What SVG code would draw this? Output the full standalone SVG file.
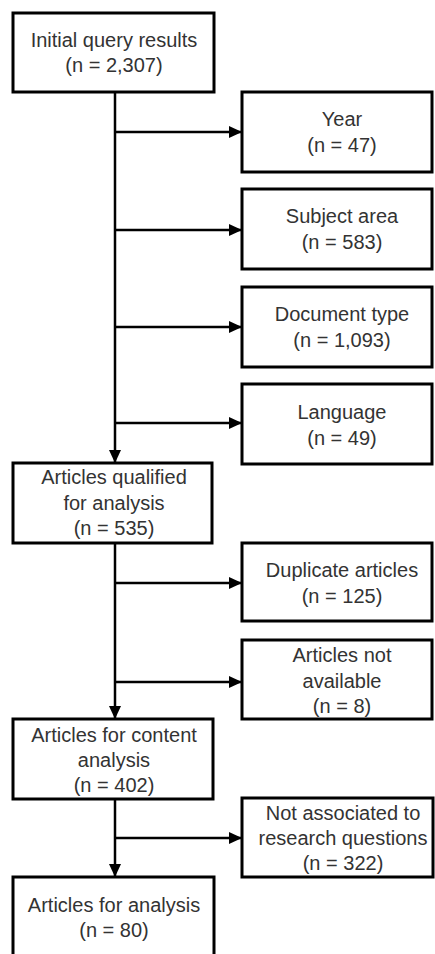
<svg xmlns="http://www.w3.org/2000/svg" width="435" height="954" viewBox="0 0 435 954">
  <defs>
    <style>
      .box { fill: #ffffff; stroke: #000000; stroke-width: 3; }
      .lbl { font-family: "Liberation Sans", Arial, sans-serif; font-size: 20px; fill: #333333; text-anchor: middle; }
      .link { fill: none; stroke: #000000; stroke-width: 2.5; }
    </style>
    <marker id="arrow" markerUnits="userSpaceOnUse" markerWidth="14" markerHeight="14" viewBox="0 0 14 14" refX="13" refY="7" orient="auto">
      <path d="M0,1 L13,7 L0,13 Z" fill="#000000"/>
    </marker>
  </defs>
  <rect width="435" height="954" fill="#ffffff"/>

  <!-- connectors -->
  <g id="connectors">
    <path class="link" d="M115,92 V463" marker-end="url(#arrow)"/>
    <path class="link" d="M115,132 H242" marker-end="url(#arrow)"/>
    <path class="link" d="M115,230 H242" marker-end="url(#arrow)"/>
    <path class="link" d="M115,327 H242" marker-end="url(#arrow)"/>
    <path class="link" d="M115,423 H242" marker-end="url(#arrow)"/>
    <path class="link" d="M115,543 V719" marker-end="url(#arrow)"/>
    <path class="link" d="M115,583 H242" marker-end="url(#arrow)"/>
    <path class="link" d="M115,682 H242" marker-end="url(#arrow)"/>
    <path class="link" d="M115,799 V877" marker-end="url(#arrow)"/>
    <path class="link" d="M115,838 H242" marker-end="url(#arrow)"/>
  </g>

  <!-- main flow -->
  <g id="initial">
    <rect class="box" x="13" y="13" width="201" height="79"/>
    <text class="lbl" x="114" y="47">Initial query results</text>
    <text class="lbl" x="114" y="72">(n = 2,307)</text>
  </g>
  <g id="qualified">
    <rect class="box" x="13" y="463" width="199" height="80"/>
    <text class="lbl" x="114" y="484">Articles qualified</text>
    <text class="lbl" x="114" y="510">for analysis</text>
    <text class="lbl" x="114" y="535">(n = 535)</text>
  </g>
  <g id="content">
    <rect class="box" x="13" y="719" width="200" height="80"/>
    <text class="lbl" x="114" y="742">Articles for content</text>
    <text class="lbl" x="114" y="767">analysis</text>
    <text class="lbl" x="114" y="792">(n = 402)</text>
  </g>
  <g id="final">
    <rect class="box" x="13" y="877" width="201" height="80"/>
    <text class="lbl" x="114" y="912">Articles for analysis</text>
    <text class="lbl" x="114" y="937">(n = 80)</text>
  </g>

  <!-- exclusions -->
  <g id="year">
    <rect class="box" x="242" y="92" width="190" height="80"/>
    <text class="lbl" x="342" y="126">Year</text>
    <text class="lbl" x="342" y="152">(n = 47)</text>
  </g>
  <g id="subject">
    <rect class="box" x="242" y="189" width="190" height="80"/>
    <text class="lbl" x="342" y="223">Subject area</text>
    <text class="lbl" x="342" y="249">(n = 583)</text>
  </g>
  <g id="doctype">
    <rect class="box" x="242" y="287" width="190" height="80"/>
    <text class="lbl" x="342" y="321">Document type</text>
    <text class="lbl" x="342" y="347">(n = 1,093)</text>
  </g>
  <g id="language">
    <rect class="box" x="242" y="384" width="190" height="80"/>
    <text class="lbl" x="342" y="419">Language</text>
    <text class="lbl" x="342" y="445">(n = 49)</text>
  </g>
  <g id="duplicates">
    <rect class="box" x="242" y="543" width="190" height="78"/>
    <text class="lbl" x="342" y="577">Duplicate articles</text>
    <text class="lbl" x="342" y="603">(n = 125)</text>
  </g>
  <g id="unavailable">
    <rect class="box" x="242" y="640" width="190" height="79"/>
    <text class="lbl" x="342" y="662">Articles not</text>
    <text class="lbl" x="342" y="688">available</text>
    <text class="lbl" x="342" y="713">(n = 8)</text>
  </g>
  <g id="unrelated">
    <rect class="box" x="242" y="798" width="191" height="79"/>
    <text class="lbl" x="343" y="820">Not associated to</text>
    <text class="lbl" x="343" y="845">research questions</text>
    <text class="lbl" x="343" y="870">(n = 322)</text>
  </g>
</svg>
